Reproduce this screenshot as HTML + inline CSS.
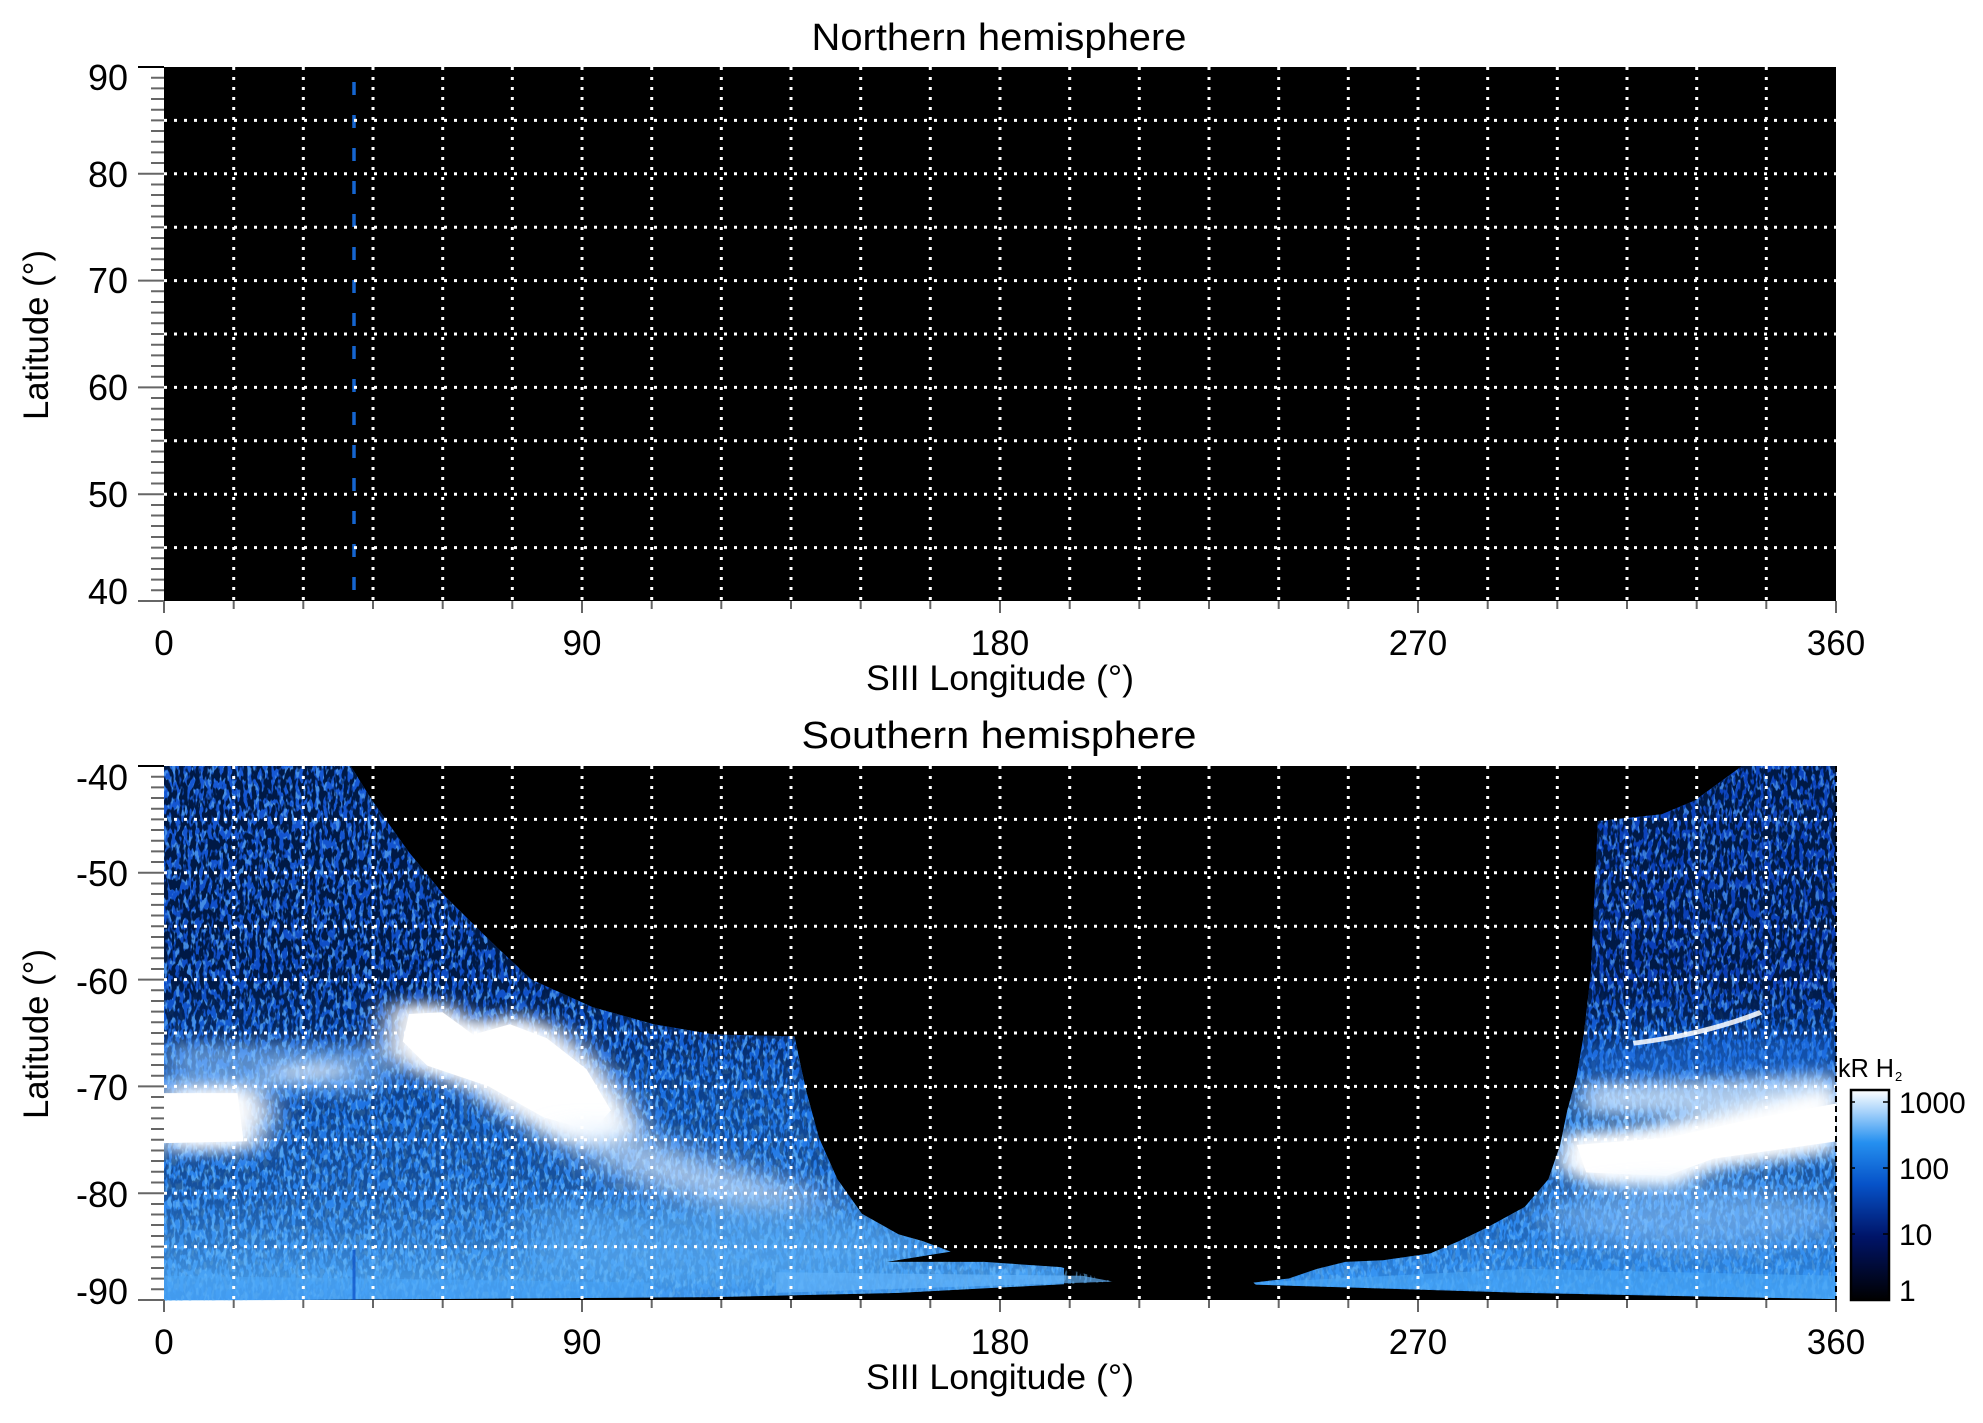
<!DOCTYPE html>
<html><head><meta charset="utf-8"><style>
html,body{margin:0;padding:0;background:#fff}
svg{display:block}
text{font-family:"Liberation Sans",sans-serif;fill:#000}
</style></head><body>
<svg width="1983" height="1423" viewBox="0 0 1983 1423" xmlns="http://www.w3.org/2000/svg">
<defs>
<filter id="spk" x="0" y="0" width="100%" height="100%" filterUnits="userSpaceOnUse">
<feTurbulence type="fractalNoise" baseFrequency="0.25 0.1" numOctaves="2" seed="4"/>
<feColorMatrix type="matrix" values="0 0 0 0 0  0 0 0 0 0.01  0 0 0 0 0.06  10 0 0 0 -4.4"/>
</filter>
<filter id="spk2" x="0" y="0" width="100%" height="100%" filterUnits="userSpaceOnUse">
<feTurbulence type="fractalNoise" baseFrequency="0.25 0.12" numOctaves="2" seed="9"/>
<feColorMatrix type="matrix" values="0 0 0 0 0.15  0 0 0 0 0.5  0 0 0 0 0.95  9 0 0 0 -4.6"/>
</filter>
<filter id="bl" x="-50%" y="-50%" width="200%" height="200%"><feGaussianBlur stdDeviation="25 22"/></filter>
<filter id="bl2" x="-50%" y="-50%" width="200%" height="200%"><feGaussianBlur stdDeviation="40 35"/></filter>
<linearGradient id="gL" x1="0" y1="766" x2="0" y2="1300" gradientUnits="userSpaceOnUse">
<stop offset="0" stop-color="#1658d4"/><stop offset="0.4" stop-color="#0e4cc4"/>
<stop offset="0.6" stop-color="#1a6ee0"/><stop offset="0.8" stop-color="#2a82ea"/>
<stop offset="0.96" stop-color="#49a3f5"/><stop offset="1" stop-color="#3d96f0"/>
</linearGradient>
<linearGradient id="gR" x1="0" y1="766" x2="0" y2="1300" gradientUnits="userSpaceOnUse">
<stop offset="0" stop-color="#0c45c0"/><stop offset="0.4" stop-color="#0a3db5"/>
<stop offset="0.5" stop-color="#1460d8"/><stop offset="0.65" stop-color="#3a8ff0"/>
<stop offset="0.85" stop-color="#2a85ec"/><stop offset="1" stop-color="#3a9af5"/>
</linearGradient>
<linearGradient id="mk" x1="0" y1="766" x2="0" y2="1300" gradientUnits="userSpaceOnUse">
<stop offset="0" stop-color="#fff" stop-opacity="1"/><stop offset="0.4" stop-color="#fff" stop-opacity="1"/>
<stop offset="0.6" stop-color="#fff" stop-opacity="0.55"/><stop offset="0.8" stop-color="#fff" stop-opacity="0.45"/>
<stop offset="1" stop-color="#fff" stop-opacity="0.05"/>
</linearGradient>
<mask id="m1" maskUnits="userSpaceOnUse" x="0" y="0" width="1983" height="1423"><rect x="0" y="766" width="1983" height="534" fill="url(#mk)"/></mask>
<clipPath id="cL"><path transform="translate(164,766) scale(0.6122,0.3444)" d="M0,0 L305,0 L340,100 L400,250 L460,380 L540,520 L600,620 L700,700 L800,750 L900,780 L1030,785 L1040,870 L1050,950 L1070,1080 L1100,1200 L1140,1300 L1200,1360 L1240,1380 L1285,1410 L1180,1440 L1340,1440 L1465,1455 L1550,1497 L1200,1530 L900,1542 L0,1553 Z"/></clipPath>
<clipPath id="cR"><path transform="translate(1100,766) scale(0.472,0.3444)" d="M1560,0 L1360,0 L1260,100 L1190,140 L1055,160 L1050,300 L1040,600 L1025,780 L1010,900 L990,1000 L975,1100 L950,1200 L900,1280 L820,1340 L760,1380 L700,1415 L600,1435 L520,1440 L460,1460 L400,1488 L325,1500 L330,1506 L900,1530 L1560,1548 Z"/></clipPath>
<linearGradient id="cb" x1="0" y1="1300" x2="0" y2="1090" gradientUnits="userSpaceOnUse">
<stop offset="0" stop-color="#000"/><stop offset="0.3" stop-color="#001468"/>
<stop offset="0.55" stop-color="#0652c8"/><stop offset="0.75" stop-color="#2590f0"/>
<stop offset="0.9" stop-color="#aad4fb"/><stop offset="1" stop-color="#fff"/>
</linearGradient>
</defs>

<text x="999" y="50" font-size="38" text-anchor="middle" textLength="375" lengthAdjust="spacingAndGlyphs">Northern hemisphere</text>
<text x="999" y="748" font-size="38" text-anchor="middle" textLength="395" lengthAdjust="spacingAndGlyphs">Southern hemisphere</text>

<rect x="164" y="67" width="1672" height="534" fill="#000"/>
<rect x="164" y="766" width="1672" height="534" fill="#000"/>

<g clip-path="url(#cL)">
<rect x="164" y="766" width="900" height="534" fill="url(#gL)"/>
<rect x="164" y="766" width="900" height="534" filter="url(#spk2)" opacity="0.55"/>
<rect x="164" y="766" width="900" height="534" filter="url(#spk)" mask="url(#m1)"/>
<g transform="translate(164,766) scale(0.6122,0.3444)">
<path d="M0,800 L360,810 L380,900 L330,950 L0,950 Z" fill="#8cc4ff" opacity="0.6" filter="url(#bl)"/>
<path d="M170,880 L290,860 L300,900 L180,910 Z" fill="#fff" opacity="0.8" filter="url(#bl)"/>
<path d="M0,930 L150,925 L175,1000 L150,1115 L0,1120 Z" fill="#fff" filter="url(#bl)"/>
<path d="M0,950 L120,950 L130,1090 L0,1095 Z" fill="#fff"/>
<path d="M370,690 L460,690 L510,750 L570,720 L640,760 L700,850 L760,980 L780,1070 L710,1110 L640,1090 L560,1010 L490,930 L410,890 L360,830 Z" fill="#fff" filter="url(#bl)"/>
<path d="M400,720 L455,715 L505,780 L565,750 L625,790 L690,880 L730,1000 L700,1060 L620,1020 L530,930 L430,870 L390,800 Z" fill="#fff"/>
<path d="M650,1050 L760,1060 L900,1150 L1050,1230 L1100,1280 L950,1300 L780,1220 L680,1130 Z" fill="#cfe6ff" opacity="0.75" filter="url(#bl2)"/>
<path d="M600,1260 L1150,1300 L1250,1400 L1100,1480 L600,1470 Z" fill="#60b2f8" opacity="0.55" filter="url(#bl2)"/>
<path d="M1000,1470 L1500,1480 L1550,1497 L1000,1530 Z" fill="#5fb0f8" opacity="0.7"/>
<path d="M0,1480 L800,1500 L800,1550 L0,1553 Z" fill="#4aa6f7" opacity="0.5"/>
</g>
</g>

<g clip-path="url(#cR)">
<rect x="1240" y="766" width="600" height="534" fill="url(#gR)"/>
<rect x="1240" y="766" width="600" height="534" filter="url(#spk2)" opacity="0.5"/>
<rect x="1240" y="766" width="600" height="534" filter="url(#spk)" mask="url(#m1)"/>
<g transform="translate(1100,766) scale(0.472,0.3444)">
<path d="M1020,820 L1300,780 L1560,780 L1560,900 L1020,900 Z" fill="#1a6ee0" opacity="0.5" filter="url(#bl)"/>
<path d="M1130,805 Q1280,780 1400,715" stroke="#fff" stroke-width="14" fill="none" opacity="0.85"/>
<path d="M1020,920 L1300,910 L1560,890 L1560,1010 L1300,1020 L1020,1010 Z" fill="#cfe6ff" opacity="0.8" filter="url(#bl)"/>
<path d="M980,1070 L1150,1050 L1350,990 L1560,930 L1560,1120 L1300,1170 L1220,1230 L1050,1220 L970,1170 Z" fill="#fff" filter="url(#bl)"/>
<path d="M1010,1100 L1200,1080 L1400,1020 L1560,980 L1560,1090 L1300,1140 L1200,1190 L1030,1180 Z" fill="#fff"/>
<ellipse cx="1260" cy="1310" rx="330" ry="90" fill="#8cc6ff" opacity="0.6" filter="url(#bl2)"/>
<path d="M330,1500 L900,1460 L1560,1480 L1560,1548 L330,1506 Z" fill="#4aa6f7" opacity="0.6"/>
</g>
</g>

<line x1="354" y1="82" x2="354" y2="601" stroke="#1565d0" stroke-width="3.5" stroke-dasharray="13 20"/>
<line x1="354" y1="1250" x2="354" y2="1300" stroke="#0a4fc8" stroke-width="3" opacity="0.7"/>

<g stroke="#fff" stroke-width="3" stroke-dasharray="3 7" fill="none">
<path d="M233.7,67V601M303.3,67V601M373,67V601M442.7,67V601M512.3,67V601M582,67V601M651.7,67V601M721.3,67V601M791,67V601M860.7,67V601M930.3,67V601M1000,67V601M1069.7,67V601M1139.3,67V601M1209,67V601M1278.7,67V601M1348.3,67V601M1418,67V601M1487.7,67V601M1557.3,67V601M1627,67V601M1696.7,67V601M1766.3,67V601"/>
<path d="M164,120.4H1836M164,173.8H1836M164,227.2H1836M164,280.6H1836M164,334H1836M164,387.4H1836M164,440.8H1836M164,494.2H1836M164,547.6H1836"/>
<path d="M233.7,766V1300M303.3,766V1300M373,766V1300M442.7,766V1300M512.3,766V1300M582,766V1300M651.7,766V1300M721.3,766V1300M791,766V1300M860.7,766V1300M930.3,766V1300M1000,766V1300M1069.7,766V1300M1139.3,766V1300M1209,766V1300M1278.7,766V1300M1348.3,766V1300M1418,766V1300M1487.7,766V1300M1557.3,766V1300M1627,766V1300M1696.7,766V1300M1766.3,766V1300"/>
<path d="M164,819.4H1836M164,872.8H1836M164,926.2H1836M164,979.6H1836M164,1033H1836M164,1086.4H1836M164,1139.8H1836M164,1193.2H1836M164,1246.6H1836"/>
</g>
<line x1="1836" y1="766" x2="1836" y2="1300" stroke="#000" stroke-width="2" stroke-dasharray="6 4"/>

<g stroke="#666" stroke-width="2">
<path d="M151,67H164M151,77.7H164M151,88.4H164M151,99H164M151,109.7H164M151,120.4H164M151,131H164M151,141.8H164M151,152.4H164M151,163H164M151,184.5H164M151,195H164M151,205.9H164M151,216.5H164M151,227.2H164M151,238H164M151,248.6H164M151,259.2H164M151,270H164M151,291.3H164M151,302H164M151,312.6H164M151,323.3H164M151,334H164M151,344.7H164M151,355.4H164M151,366H164M151,376.7H164M151,398H164M151,408.8H164M151,419.4H164M151,430H164M151,440.8H164M151,451.5H164M151,462H164M151,472.8H164M151,483.5H164M151,505H164M151,515.5H164M151,526H164M151,537H164M151,547.6H164M151,558.3H164M151,569H164M151,579.6H164M151,590.3H164"/>
<path d="M138,173.8H164M138,280.6H164M138,387.4H164M138,494.2H164M138,601H164"/>
<path d="M151,776.7H164M151,787.4H164M151,798H164M151,808.7H164M151,819.4H164M151,830H164M151,840.8H164M151,851.4H164M151,862H164M151,883.5H164M151,894H164M151,904.9H164M151,915.5H164M151,926.2H164M151,937H164M151,947.6H164M151,958.2H164M151,969H164M151,990.3H164M151,1001H164M151,1011.6H164M151,1022.3H164M151,1033H164M151,1043.7H164M151,1054.4H164M151,1065H164M151,1075.7H164M151,1097H164M151,1107.8H164M151,1118.4H164M151,1129H164M151,1139.8H164M151,1150.5H164M151,1161H164M151,1171.8H164M151,1182.5H164M151,1204H164M151,1214.5H164M151,1225H164M151,1236H164M151,1246.6H164M151,1257.3H164M151,1268H164M151,1278.6H164M151,1289.3H164"/>
<path d="M138,872.8H164M138,979.6H164M138,1086.4H164M138,1193.2H164M138,1300H164"/>
</g>
<path d="M138,67H164M138,766H164" stroke="#000" stroke-width="2"/>
<g stroke="#666" stroke-width="2">
<path d="M164,601v12M233.7,601v8M303.3,601v8M373,601v8M442.7,601v8M512.3,601v8M582,601v12M651.7,601v8M721.3,601v8M791,601v8M860.7,601v8M930.3,601v8M1000,601v12M1069.7,601v8M1139.3,601v8M1209,601v8M1278.7,601v8M1348.3,601v8M1418,601v12M1487.7,601v8M1557.3,601v8M1627,601v8M1696.7,601v8M1766.3,601v8M1836,601v12"/>
<path d="M164,1300v12M233.7,1300v8M303.3,1300v8M373,1300v8M442.7,1300v8M512.3,1300v8M582,1300v12M651.7,1300v8M721.3,1300v8M791,1300v8M860.7,1300v8M930.3,1300v8M1000,1300v12M1069.7,1300v8M1139.3,1300v8M1209,1300v8M1278.7,1300v8M1348.3,1300v8M1418,1300v12M1487.7,1300v8M1557.3,1300v8M1627,1300v8M1696.7,1300v8M1766.3,1300v8M1836,1300v12"/>
</g>

<g font-size="36" text-anchor="end">
<text x="128" y="90">90</text><text x="128" y="187">80</text><text x="128" y="293">70</text>
<text x="128" y="400">60</text><text x="128" y="507">50</text><text x="128" y="604">40</text>
<text x="128" y="790">-40</text><text x="128" y="886">-50</text><text x="128" y="994">-60</text>
<text x="128" y="1100">-70</text><text x="128" y="1207">-80</text><text x="128" y="1304">-90</text>
</g>
<g font-size="35" text-anchor="middle">
<text x="164" y="655">0</text><text x="582" y="655">90</text><text x="1000" y="655">180</text><text x="1418" y="655">270</text><text x="1836" y="655">360</text>
<text x="164" y="1354">0</text><text x="582" y="1354">90</text><text x="1000" y="1354">180</text><text x="1418" y="1354">270</text><text x="1836" y="1354">360</text>
</g>
<text x="1000" y="690" font-size="35" text-anchor="middle" textLength="268" lengthAdjust="spacingAndGlyphs">SIII Longitude (°)</text>
<text x="1000" y="1389" font-size="35" text-anchor="middle" textLength="268" lengthAdjust="spacingAndGlyphs">SIII Longitude (°)</text>
<text transform="translate(48,335) rotate(-90)" font-size="35" text-anchor="middle" textLength="170" lengthAdjust="spacingAndGlyphs">Latitude (°)</text>
<text transform="translate(48,1034) rotate(-90)" font-size="35" text-anchor="middle" textLength="170" lengthAdjust="spacingAndGlyphs">Latitude (°)</text>

<rect x="1851" y="1090" width="38" height="210" fill="url(#cb)" stroke="#000" stroke-width="2.5"/>
<g stroke="#000" stroke-width="1.5"><path d="M1883,1102h6M1883,1168h6M1883,1234h6M1855,1102h-4M1855,1168h-4M1855,1234h-4"/></g>
<text x="1838" y="1077" font-size="26" textLength="56" lengthAdjust="spacingAndGlyphs">kR H</text>
<text x="1895" y="1081" font-size="13">2</text>
<g font-size="30"><text x="1899" y="1113">1000</text><text x="1899" y="1179">100</text><text x="1899" y="1245">10</text><text x="1899" y="1301">1</text></g>
</svg>
</body></html>
